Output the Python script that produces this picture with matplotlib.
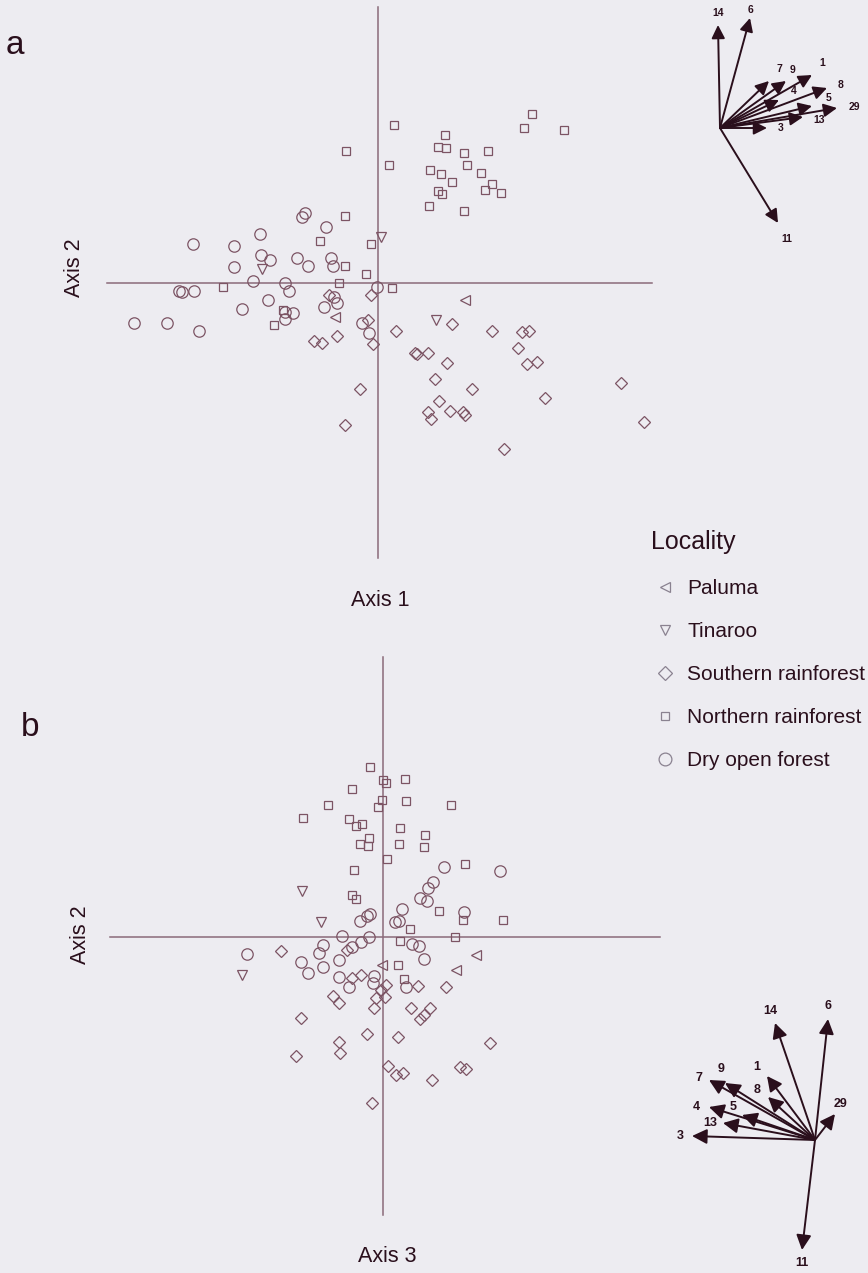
import numpy as np
import matplotlib.pyplot as plt
from matplotlib.lines import Line2D

plt.rcParams['font.family'] = ['Liberation Sans', 'DejaVu Sans']

# =============================================================================
# Ordination scores
# =============================================================================

# panel a: Axis 1 (x) vs Axis 2 (y)
a_dry_x = [-1.85, -1.44, -1.18, -0.73, -0.76, -0.52, -1.44, -1.17, -1.08, -0.81, -0.70,
           -0.47, -0.45, -1.25, -0.93, -0.89, -1.99, -1.96, -1.84, -1.10, -1.36, -0.93,
           -0.85, -0.93, -2.44, -2.11, -1.79, -0.44, -0.41, -0.54, -0.01, -0.16, -0.09]
a_dry_y = [0.39, 0.37, 0.49, 0.70, 0.66, 0.56, 0.16, 0.28, 0.23, 0.25, 0.17,
           0.25, 0.17, 0.02, 0.00, -0.08, -0.08, -0.09, -0.08, -0.17, -0.26, -0.29,
           -0.30, -0.36, -0.40, -0.40, -0.48, -0.14, -0.20, -0.24, -0.04, -0.40, -0.50]
a_north_x = [0.16, -0.32, 0.11, -0.33, -0.58, -0.07, -0.33, -0.12, -0.39, -1.55, 0.14,
             -0.95, -1.04, 1.54, 1.46, 1.86, 0.67, 0.60, 0.68, 0.86, 1.10, 0.89, 0.52,
             0.63, 1.03, 0.74, 1.14, 1.07, 1.23, 0.60, 0.64, 0.51, 0.86]
a_north_y = [1.58, 1.32, 1.18, 0.67, 0.42, 0.39, 0.17, 0.09, 0.00, -0.04, -0.05,
             -0.27, -0.42, 1.69, 1.55, 1.53, 1.48, 1.36, 1.35, 1.30, 1.32, 1.18, 1.13,
             1.09, 1.10, 1.01, 0.99, 0.93, 0.90, 0.92, 0.89, 0.77, 0.72]
a_south_x = [-0.49, -0.07, -0.10, -0.05, -0.64, -0.56, -0.41, 0.18, 0.74, 1.14, 1.44,
             1.51, 1.40, 1.49, 1.59, 0.37, 0.39, 0.50, 0.69, 0.57, 0.94, -0.18, 0.61,
             0.50, 0.53, 0.72, 0.85, 0.87, 1.67, 2.43, 2.66, 1.26, -0.33]
a_south_y = [-0.12, -0.12, -0.37, -0.61, -0.58, -0.60, -0.53, -0.48, -0.41, -0.48, -0.49,
             -0.48, -0.65, -0.81, -0.79, -0.70, -0.71, -0.70, -0.80, -0.96, -1.06, -1.06, -1.18,
             -1.29, -1.36, -1.28, -1.29, -1.32, -1.15, -1.00, -1.39, -1.66, -1.42]
a_tin_x = [0.03, -1.16, 0.58]
a_tin_y = [0.46, 0.14, -0.37]
a_pal_x = [0.87, -0.43]
a_pal_y = [-0.17, -0.34]

# panel b: Axis 3 (x) vs Axis 2 (y)
b_dry_x = [0.61, 1.17, 0.50, 0.45, 0.37, 0.44, 0.19, -0.13, -0.16, -0.23, 0.12,
           0.16, 0.81, -0.41, -0.14, -0.22, -0.31, -0.60, -0.64, -0.82, -0.75, -0.44,
           -0.60, 0.29, 0.36, 0.41, -1.36, -0.44, -0.34, -0.09, -0.10, 0.23]
b_dry_y = [0.70, 0.66, 0.55, 0.49, 0.39, 0.36, 0.28, 0.23, 0.21, 0.16, 0.15,
           0.16, 0.25, 0.01, 0.00, -0.05, -0.10, -0.08, -0.16, -0.25, -0.36, -0.23,
           -0.30, -0.07, -0.09, -0.22, -0.17, -0.40, -0.50, -0.39, -0.46, -0.50]
b_north_x = [-0.13, 0.00, 0.03, 0.22, -0.31, -0.55, -0.01, -0.05, 0.23, 0.68, -0.80,
             -0.34, -0.27, -0.21, 0.17, 0.42, 0.41, -0.14, -0.23, -0.15, 0.16, 0.04,
             -0.29, 0.82, -0.31, -0.27, 0.56, 0.80, 1.20, 0.27, 0.72, 0.17, 0.15, 0.21]
b_north_y = [1.70, 1.57, 1.54, 1.58, 1.48, 1.32, 1.37, 1.30, 1.36, 1.32, 1.19,
             1.18, 1.11, 1.13, 1.09, 1.02, 0.90, 0.99, 0.93, 0.91, 0.93, 0.78,
             0.67, 0.73, 0.42, 0.38, 0.26, 0.17, 0.17, 0.08, 0.00, -0.04, -0.28, -0.42]
b_south_x = [-1.02, -0.36, -0.31, -0.22, -0.50, -0.44, -0.82, -0.09, -0.07, -0.02, 0.03,
             0.02, 0.35, 0.63, 0.28, 0.47, 0.41, 0.37, -0.16, 0.15, -0.44, -0.43,
             -0.87, 1.07, 0.05, 0.13, 0.20, 0.49, 0.77, 0.83, -0.11]
b_south_y = [-0.14, -0.13, -0.41, -0.38, -0.59, -0.66, -0.81, -0.71, -0.61, -0.53, -0.48,
             -0.60, -0.49, -0.50, -0.71, -0.71, -0.78, -0.82, -0.97, -1.00, -1.05, -1.16,
             -1.19, -1.06, -1.29, -1.38, -1.36, -1.43, -1.30, -1.32, -1.66]
b_tin_x = [-0.81, -0.62, -1.41]
b_tin_y = [0.46, 0.15, -0.38]
b_pal_x = [0.93, 0.73, -0.01]
b_pal_y = [-0.18, -0.33, -0.28]

# variable loadings (biplot vectors)
var_names = ['14', '6', '7', '9', '1', '4', '8', '5', '29', '13', '3', '11']
top_vx = [-0.02, 0.30, 0.49, 0.66, 0.92, 0.59, 1.07, 0.92, 1.17, 0.83, 0.47, 0.58]
top_vy = [1.03, 1.10, 0.47, 0.47, 0.53, 0.28, 0.40, 0.22, 0.20, 0.11, 0.00, -0.95]
bot_vx = [-0.40, 0.13, -1.06, -0.90, -0.48, -1.06, -0.47, -0.73, 0.20, -0.92, -1.23, -0.13]
bot_vy = [1.17, 1.21, 0.60, 0.57, 0.64, 0.33, 0.43, 0.25, 0.26, 0.17, 0.04, -1.10]

localities = ['Paluma', 'Tinaroo', 'Southern rainforest', 'Northern rainforest', 'Dry open forest']

# =============================================================================
# styles / layout (pixels)
# =============================================================================
W, H = 868, 1273
bg = '#edecf1'
ink = '#2a0f1c'
mk = '#7c5464'
axcol = '#8a6a7a'

marks = {'Paluma': ('<', 6.5), 'Tinaroo': ('v', 6.5), 'Southern rainforest': ('D', 5.8),
         'Northern rainforest': ('s', 5.3), 'Dry open forest': ('o', 8.2)}

top_off = [(0, 12), (1, 8), (10, 12), (7, 11), (10, 12), (15, 9), (14, 3), (17, 8),
           (17, 1), (16, -3), (14, 0), (9, -16)]
bot_off = [(-5, 12), (0, 13), (-10, 2), (-4, 14), (-10, 9), (-13, 0), (-11, 7), (-9, 8),
           (5, 10), (-13, 0), (-12, 0), (0, -13)]

fig = plt.figure(figsize=(W / 100, H / 100), dpi=100, facecolor=bg)


def px_axes(x0, y0, x1, y1, ox, oy):
    ax = fig.add_axes([x0 / W, 1 - y1 / H, (x1 - x0) / W, (y1 - y0) / H])
    ax.set_xlim((x0 - ox) / 100, (x1 - ox) / 100)
    ax.set_ylim((oy - y1) / 100, (oy - y0) / 100)
    ax.axis('off')
    ax.patch.set_alpha(0)
    return ax


def scatter_panel(ax, series, hspan, vspan):
    x0, x1 = ax.get_xlim()
    y0, y1 = ax.get_ylim()
    ax.axhline(0, xmin=(hspan[0] - x0) / (x1 - x0), xmax=(hspan[1] - x0) / (x1 - x0),
               color=axcol, lw=1.1, zorder=1)
    ax.axvline(0, ymin=(vspan[0] - y0) / (y1 - y0), ymax=(vspan[1] - y0) / (y1 - y0),
               color=axcol, lw=1.1, zorder=1)
    for name, xs, ys in series:
        m, ms = marks[name]
        ax.plot(xs, ys, ls='none', marker=m, ms=ms, mfc='none', mec=mk, mew=0.9, zorder=2)


def vectors(ax, vx, vy, offs, fs, head):
    for name, x, y, off in zip(var_names, vx, vy, offs):
        ax.annotate('', xy=(x, y), xytext=(0, 0),
                    arrowprops=dict(arrowstyle='-|>,head_length=0.5,head_width=0.25',
                                    color=ink, lw=1.4,
                                    mutation_scale=head, shrinkA=0, shrinkB=0))
        ax.annotate(name, xy=(x, y), xytext=off, textcoords='offset pixels',
                    ha='center', va='center', fontsize=fs, fontweight='bold', color=ink)


# panel a
ax_a = px_axes(100, 0, 660, 570, 378, 283)
scatter_panel(ax_a, [('Dry open forest', a_dry_x, a_dry_y),
                     ('Northern rainforest', a_north_x, a_north_y),
                     ('Southern rainforest', a_south_x, a_south_y),
                     ('Tinaroo', a_tin_x, a_tin_y),
                     ('Paluma', a_pal_x, a_pal_y)],
              (-2.71, 2.74), (-2.75, 2.76))

# panel b
ax_b = px_axes(100, 640, 670, 1230, 383, 937)
scatter_panel(ax_b, [('Dry open forest', b_dry_x, b_dry_y),
                     ('Northern rainforest', b_north_x, b_north_y),
                     ('Southern rainforest', b_south_x, b_south_y),
                     ('Tinaroo', b_tin_x, b_tin_y),
                     ('Paluma', b_pal_x, b_pal_y)],
              (-2.73, 2.77), (-2.78, 2.80))

# loading vectors
ax_v1 = px_axes(690, 0, 868, 250, 720, 128)
vectors(ax_v1, top_vx, top_vy, top_off, 7.5, 16)
ax_v2 = px_axes(660, 990, 868, 1273, 815, 1140)
vectors(ax_v2, bot_vx, bot_vy, bot_off, 9, 18)

# labels
def ftext(x, y, s, **kw):
    fig.text(x / W, 1 - y / H, s, color=ink, va='center', **kw)


ftext(15, 46, 'a', fontsize=24, ha='center')
ftext(30, 728, 'b', fontsize=24, ha='center')
ftext(380, 600, 'Axis 1', fontsize=15.5, ha='center')
ftext(387, 1257, 'Axis 3', fontsize=15.5, ha='center')
ftext(75, 268, 'Axis 2', fontsize=15.5, rotation=90, ha='center')
ftext(81, 935, 'Axis 2', fontsize=15.5, rotation=90, ha='center')
ftext(651, 542, 'Locality', fontsize=18, ha='left')

# legend
handles = [Line2D([], [], ls='none', marker=marks[n][0], ms=marks[n][1] + 1.0, mfc='none',
                  mec='#8a8290', mew=0.9) for n in localities]
leg = fig.legend(handles, localities, loc='upper left', bbox_to_anchor=(657 / W, 1 - 579 / H),
                 frameon=False, fontsize=15, borderpad=0, borderaxespad=0, handlelength=0.8,
                 handletextpad=0.65, labelspacing=1.15)
for t in leg.get_texts():
    t.set_color(ink)

plt.savefig('out.png', dpi=100, facecolor=bg)
